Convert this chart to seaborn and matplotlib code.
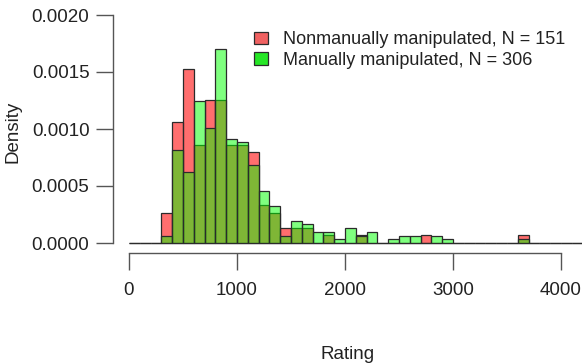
import numpy as np
import pandas as pd
import matplotlib
matplotlib.use("Agg")
import matplotlib.pyplot as plt
from matplotlib.patches import Patch
import seaborn as sns

# Histogram bins (width 100) and the count of ratings in each bin
bin_width = 100
rating_range = (0, 4200)
bin_starts = np.arange(rating_range[0], rating_range[1], bin_width)

# Nonmanually manipulated group
nonmanual_label = "Nonmanually manipulated"
nonmanual_n = 151
nonmanual_counts = {
    300: 4, 400: 16, 500: 23, 600: 13, 700: 19, 800: 19, 900: 13,
    1000: 13, 1100: 12, 1200: 5, 1300: 4, 1400: 2, 1500: 2, 1600: 2,
    1800: 1, 2100: 1, 2700: 1, 3600: 1,
}

# Manually manipulated group
manual_label = "Manually manipulated"
manual_n = 306
manual_counts = {
    300: 2, 400: 25, 500: 19, 600: 38, 700: 31, 800: 52, 900: 28,
    1000: 27, 1100: 21, 1200: 14, 1300: 10, 1400: 2, 1500: 6, 1600: 5,
    1700: 3, 1800: 3, 1900: 1, 2000: 4, 2100: 2, 2200: 3, 2400: 1,
    2500: 2, 2600: 2, 2800: 2, 2900: 1, 3600: 1,
}


def density_table(counts, n):
    """One row per bin: centre and density = count / (N * width)."""
    c = np.array([counts.get(int(s), 0) for s in bin_starts], dtype=float)
    return pd.DataFrame({"Rating": bin_starts + bin_width / 2,
                         "density": c / (n * bin_width)})


sns.set_theme(style="white")
plt.rcParams["font.family"] = ["Liberation Sans", "DejaVu Sans"]

W, H = 582, 364
fig = plt.figure(figsize=(W / 100, H / 100), dpi=100)
# axes box in pixels: left 113, right 582, top 10, bottom 253
ax = fig.add_axes([113 / W, (H - 253) / H, (582 - 113) / W, (253 - 10) / H])

red = (1.0, 0.0, 0.0, 0.57)
green = (0.0, 1.0, 0.0, 0.5)
edge = "#2b2b2b"

for df, col in [(density_table(nonmanual_counts, nonmanual_n), red),
                (density_table(manual_counts, manual_n), green)]:
    n_before = len(ax.patches)
    sns.histplot(data=df, x="Rating", weights="density",
                 binwidth=bin_width, binrange=rating_range,
                 stat="count", color=col[:3], edgecolor=edge,
                 linewidth=0.9, ax=ax)
    for p in ax.patches[n_before:]:
        p.set_facecolor(col)

px_x = 0.108      # pixels per rating unit
px_y = 114000.0   # pixels per density unit
ax.set_xlim((113 - 129) / px_x, (113 - 129) / px_x + 469 / px_x)
ax.set_ylim(-10 / px_y, 0.002 + 5 / px_y)

ax.set_xticks([0, 1000, 2000, 3000, 4000])
ax.set_yticks([0, 0.0005, 0.0010, 0.0015, 0.0020])
ax.set_yticklabels(["0.0000", "0.0005", "0.0010", "0.0015", "0.0020"])

for s in ["top", "right"]:
    ax.spines[s].set_visible(False)
ax.spines["left"].set_bounds(0, 0.002)
ax.spines["bottom"].set_bounds(0, 4000)
for s in ["left", "bottom"]:
    ax.spines[s].set_color("#555555")
    ax.spines[s].set_linewidth(1.0)

ax.tick_params(axis="both", which="major", direction="out", length=12,
               width=1.0, color="#555555", labelsize=13.5,
               labelcolor="#222222", pad=5, left=True, bottom=True)
ax.tick_params(axis="x", pad=9)

ax.set_xlabel("Rating", fontsize=13.5, color="#222222", labelpad=34)
ax.set_ylabel("Density", fontsize=13.5, color="#222222", labelpad=7)
ax.grid(False)

# Legend without frame
handles = [Patch(facecolor=(0.94, 0.38, 0.38), edgecolor=edge, linewidth=0.9),
           Patch(facecolor=(0.15, 0.9, 0.15), edgecolor=edge, linewidth=0.9)]
labels = [f"{nonmanual_label}, N = {nonmanual_n}",
          f"{manual_label}, N = {manual_n}"]
ax.legend(handles, labels, loc="upper left",
          bbox_to_anchor=((247 - 113) / 469, (253 - 24) / 243),
          frameon=False, fontsize=13, handlelength=0.75, handleheight=0.7,
          handletextpad=0.85, labelspacing=0.2, borderaxespad=0,
          labelcolor="#222222")

fig.savefig("out.png", dpi=100)
